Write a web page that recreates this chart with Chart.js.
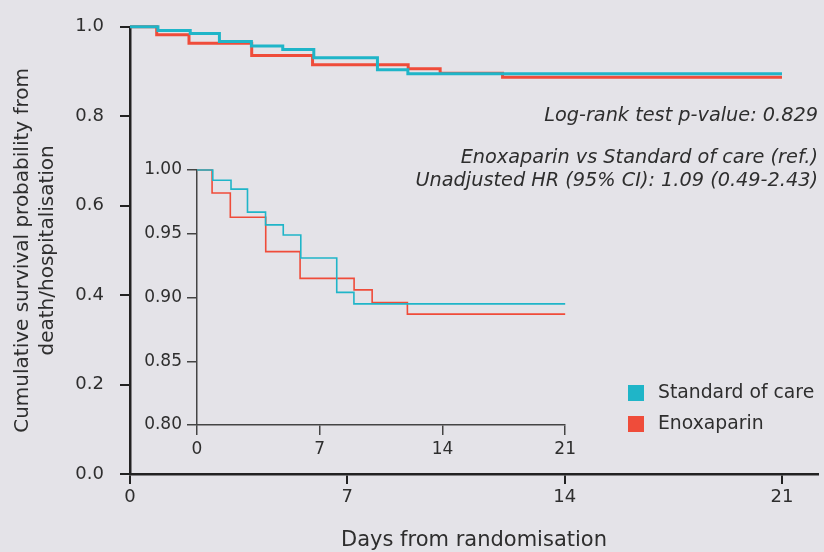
<!DOCTYPE html>
<html>
<head>
<meta charset="utf-8">
<script src="https://cdn.jsdelivr.net/npm/chart.js@4"></script>
<style>
  html, body { margin: 0; padding: 0; background: #e4e3e8; }
  #wrap { position: relative; width: 824px; height: 552px; }
  #main { position: absolute; left: 0; top: 0; }
  #inset { position: absolute; left: 120px; top: 150px; }
</style>
</head>
<body>
<div id="wrap">
  <canvas id="main" width="824" height="552"></canvas>
  <canvas id="inset" width="460" height="320"></canvas>
</div>
<script>
// Kaplan-Meier steps
var days_soc  = [0, 0.9, 1.94, 2.88, 3.91, 4.92, 5.92, 7.97, 8.95, 21];
var surv_soc  = [1, 0.992, 0.985, 0.967, 0.957, 0.949, 0.931, 0.904, 0.895, 0.895];
var days_enox = [0, 0.86, 1.9, 3.92, 5.88, 8.96, 9.99, 12.0, 21];
var surv_enox = [1, 0.982, 0.963, 0.936, 0.915, 0.906, 0.896, 0.887, 0.887];

var series_names = ['Standard of care', 'Enoxaparin'];
var series_colors = ['#1fb5c8', '#ef4c3a'];

var ticks_x = [0, 7, 14, 21];
var ticks_y_main = [0, 0.2, 0.4, 0.6, 0.8, 1.0];
var ticks_y_inset = [0.80, 0.85, 0.90, 0.95, 1.00];

var notes = [
  'Log-rank test p-value: 0.829',
  'Enoxaparin vs Standard of care (ref.)',
  'Unadjusted HR (95% CI): 1.09 (0.49-2.43)'
];

var ink = '#2e2e2e';
var fam = '"DejaVu Sans", sans-serif';
Chart.defaults.font.family = fam;
Chart.defaults.color = ink;

function pts(xs, ys) {
  return xs.map(function (x, i) { return { x: x, y: ys[i] }; });
}
function fixTicks(list) {
  return function (scale) { scale.ticks = list.map(function (v) { return { value: v }; }); };
}

function kmDatasets(width) {
  return [
    {
      label: series_names[0],
      data: pts(days_soc, surv_soc),
      stepped: true,
      borderColor: series_colors[0],
      backgroundColor: series_colors[0],
      borderWidth: width,
      pointRadius: 0,
      fill: false,
      clip: false,
    }, // Standard of care
    {
      label: series_names[1],
      data: pts(days_enox, surv_enox),
      stepped: true,
      borderColor: series_colors[1],
      backgroundColor: series_colors[1],
      borderWidth: width,
      pointRadius: 0,
      fill: false,
      clip: false,
    }, // Enoxaparin
  ];
}

// text notes + legend drawn on the main canvas
const notesPlugin = {
  id: 'notes',
  afterDraw(chart) {
    const c = chart.ctx;
    c.save();
    c.fillStyle = ink;
    c.textBaseline = 'middle';
    c.textAlign = 'right';
    c.font = 'oblique 19.3px ' + fam;
    c.fillText(notes[0], 818, 116);
    c.fillText(notes[1], 818, 158);
    c.fillText(notes[2], 818, 181);
    c.textAlign = 'left';
    c.font = '18.8px ' + fam;
    for (let i = 0; i < series_names.length; i++) {
      const y = 393 + i * 31;
      c.fillStyle = series_colors[i];
      c.fillRect(628, y - 8, 16, 16);
      c.fillStyle = ink;
      c.fillText(series_names[i], 658, y);
    }
    c.restore();
  }
};

// Main chart
var mainChart = new Chart(document.getElementById('main'), {
  type: 'line',
  data: { datasets: kmDatasets(3) },
  plugins: [notesPlugin],
  options: {
    responsive: false,
    animation: false,
    layout: { padding: { top: 24, right: 6, left: 0, bottom: 0 } },
    plugins: { legend: { display: false }, tooltip: { enabled: false } },
    scales: {
      x: {
        type: 'linear',
        min: 0,
        max: 22.16,
        afterBuildTicks: fixTicks(ticks_x),
        afterFit: function (s) { s.height = 78; },
        border: { display: true, color: '#222', width: 2.5 },
        grid: { drawOnChartArea: false, drawTicks: true, tickLength: 10, color: '#222', lineWidth: 2 },
        ticks: { font: { size: 18 }, padding: 3, color: ink, callback: function (v) { return String(v); } },
        title: { display: true, text: 'Days from randomisation', font: { size: 21, lineHeight: 1.1 }, padding: 0, color: ink },
      },
      y: {
        min: 0,
        max: 1,
        afterBuildTicks: fixTicks(ticks_y_main),
        afterFit: function (s) { s.width = 130; },
        border: { display: true, color: '#222', width: 2.5 },
        grid: { drawOnChartArea: false, drawTicks: true, tickLength: 10, color: '#222', lineWidth: 2 },
        ticks: { font: { size: 18 }, padding: 16, color: ink, callback: function (v) { return v.toFixed(1); } },
        title: {
          display: true,
          text: ['Cumulative survival probability from', 'death/hospitalisation'],
          font: { size: 20, lineHeight: 1.25 },
          padding: { top: 10, bottom: 0 },
          color: ink,
        },
      },
    },
  }
});

// Inset (zoomed y range)
var insetChart = new Chart(document.getElementById('inset'), {
  type: 'line',
  data: { datasets: kmDatasets(1.6) },
  options: {
    responsive: false,
    animation: false,
    layout: { padding: { top: 20, right: 14, left: 0, bottom: 0 } },
    plugins: { legend: { display: false }, tooltip: { enabled: false } },
    scales: {
      x: {
        type: 'linear',
        min: 0,
        max: 21,
        afterBuildTicks: fixTicks(ticks_x),
        afterFit: function (s) { s.height = 45; },
        border: { display: true, color: '#444', width: 1.5 },
        grid: { drawOnChartArea: false, drawTicks: true, tickLength: 10, color: '#444', lineWidth: 1.5 },
        ticks: { font: { size: 17 }, padding: 4, color: ink, callback: function (v) { return String(v); } },
      },
      y: {
        min: 0.8,
        max: 1.0,
        afterBuildTicks: fixTicks(ticks_y_inset),
        afterFit: function (s) { s.width = 77; },
        border: { display: true, color: '#444', width: 1.5 },
        grid: { drawOnChartArea: false, drawTicks: true, tickLength: 10, color: '#444', lineWidth: 1.5 },
        ticks: { font: { size: 17 }, padding: 5, color: ink, callback: function (v) { return v.toFixed(2); } },
      },
    },
  }
});
</script>
</body>
</html>
